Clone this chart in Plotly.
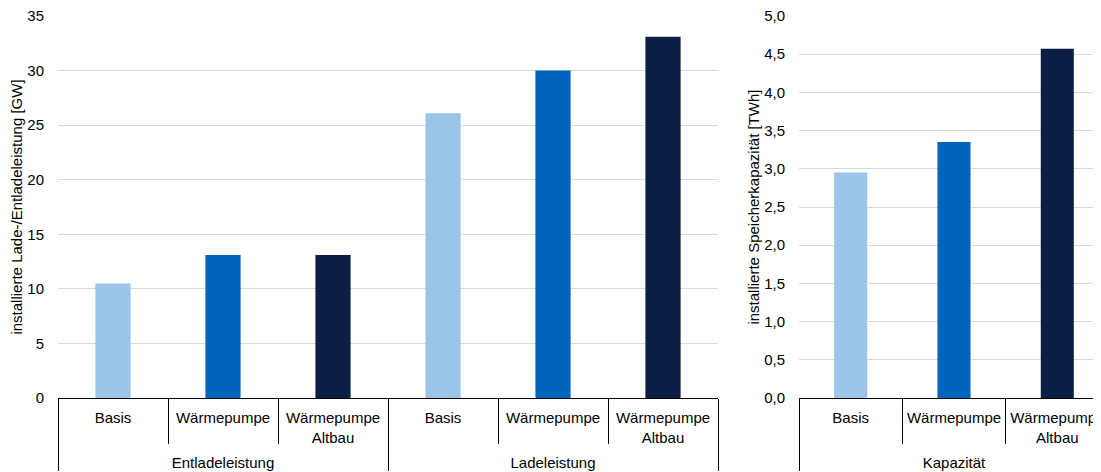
import plotly.graph_objects as go

scenarios = ["Basis", "Wärmepumpe", "Wärmepumpe<br>Altbau"]
power_groups = ["Entladeleistung", "Ladeleistung"]
entlade_gw = [10.5, 13.1, 13.1]
lade_gw = [26.1, 30.0, 33.1]
capacity_group = "Kapazität"
kapazitaet_twh = [2.95, 3.35, 4.57]
colors = ["#9AC5E9", "#0064BC", "#0B1F45"]

# invisible spacer line pushes the group labels further down, as in the reference
PAD = "<br><sup>\u00a0</sup>"
axis_labels = [s + PAD if "<br>" in s else s for s in scenarios]

left_x = [[g for g in power_groups for _ in scenarios], axis_labels * 2]
left_y = entlade_gw + lade_gw

fig = go.Figure()
fig.add_trace(go.Bar(x=left_x, y=left_y, marker=dict(color=colors * 2, line=dict(width=0)),
                     xaxis="x", yaxis="y", showlegend=False))
fig.add_trace(go.Bar(x=[[capacity_group] * 3, axis_labels], y=kapazitaet_twh,
                     marker=dict(color=colors, line=dict(width=0)),
                     xaxis="x2", yaxis="y2", showlegend=False))

font = dict(family="Liberation Sans, Arial, sans-serif", size=15, color="#000000")
xcommon = dict(type="multicategory", showline=True, linecolor="#000000", linewidth=1,
               ticks="outside", ticklen=45, tickcolor="#000000", tickwidth=1,
               showdividers=True, dividercolor="#000000", dividerwidth=1,
               tickfont=font, showgrid=False, zeroline=False, automargin=False,
               ticklabelstandoff=6)
ycommon = dict(showgrid=True, gridcolor="#D9D9D9", gridwidth=1, zeroline=False,
               showline=False, ticks="", tickfont=font, ticklabelstandoff=13, automargin=False,
               ticklabeloverflow="allow")
fig.update_layout(
    width=1093, height=464,
    margin=dict(l=50, r=0, t=8, b=74),
    paper_bgcolor="white", plot_bgcolor="white",
    font=font, separators=",.",
    bargap=0.68,
    xaxis=dict(domain=[0, 0.6328], range=[-0.5, 5.5], **xcommon),
    yaxis=dict(range=[0, 35], dtick=5,
               title=dict(text="installierte Lade-/Entladeleistung [GW]", font=font, standoff=3),
               **ycommon),
    xaxis2=dict(domain=[0.7105, 1], range=[-0.5, 2.423], **xcommon),
    yaxis2=dict(anchor="x2", range=[0, 5], dtick=0.5, tickformat=".1f",
                title=dict(text="installierte Speicherkapazität [TWh]", font=font, standoff=0),
                **ycommon),
)
fig.write_html("out.html")
